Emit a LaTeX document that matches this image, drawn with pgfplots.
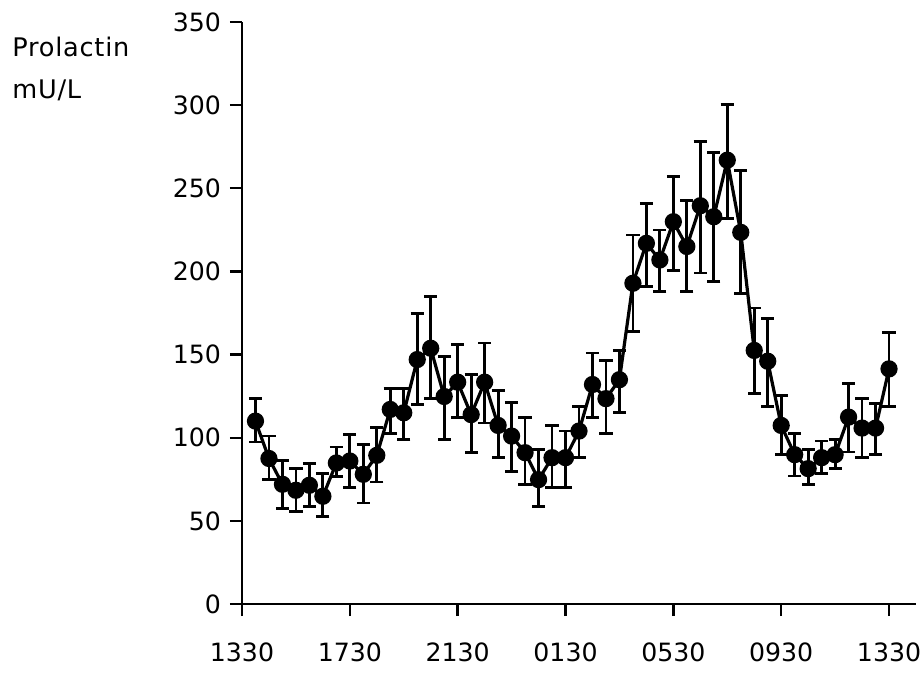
\documentclass[border=0pt]{standalone}
\usepackage{fontspec}
\setmainfont{DejaVu Sans}
\usepackage{pgfplots}
\pgfplotsset{compat=1.18}
\usepackage{pgfplotstable}

\pgfplotstableread{
x y ep em
0.5 110 13.5 12.6
1.0 87.5 13.5 12.7
1.5 72 14.4 14.6
2.0 68.4 13.1 13
2.5 71.4 13.1 13
3.0 64.8 13.7 12.4
3.5 84.8 9.6 8
4.0 86 16 16
4.5 78 18 17.2
5.0 89.4 16.6 16
5.5 117 12.8 14.5
6.0 115 14.8 16
6.5 147 27.8 27
7.0 153.8 31.1 30.3
7.5 124.8 24.2 25.8
8.0 133.4 22.5 21
8.5 113.9 24 22.9
9.0 133.4 23.6 24.6
9.5 107.4 21.1 19.4
10.0 101 20.4 21.2
10.5 91 21.4 19.2
11.0 74.8 18 16
11.5 88 19.4 18
12.0 88 16 18
12.5 104 14.8 16
13.0 132 19 19.6
13.5 123.5 23 21
14.0 134.9 17.6 19.5
14.5 192.9 29 28.9
15.0 216.9 24 25.9
15.5 206.9 18 19
16.0 229.9 27 29.4
16.5 215 27.9 27.1
17.0 239.5 38.4 40.5
17.5 232.9 38.6 38.9
18.0 266.9 33.6 35
18.5 223.5 37 37
19.0 152.5 25.5 25.7
19.5 146 25.8 27.2
20.0 107.4 18.1 17.4
20.5 89.8 12.7 12.8
21.0 81.4 11.4 9.4
21.5 88 10 9.6
22.0 89.8 9 8.3
22.5 112.4 20.4 21
23.0 105.8 17.7 17.8
23.5 105.8 14.7 15.8
24.0 141.4 22 22.6
}\prolactin

\begin{document}
\begin{tikzpicture}
\begin{axis}[
  at={(0pt,0pt)}, anchor=origin,
  scale only axis,
  width=337pt, height=291pt,
  xmin=0, xmax=25, ymin=0, ymax=350,
  axis x line*=bottom, axis y line*=left,
  axis line style={line width=1.2pt},
  tick align=outside,
  major tick length=6pt,
  tick style={line width=1.2pt, black},
  xtick={0,4,8,12,16,20,24},
  xticklabels={1330,1730,2130,0130,0530,0930,1330},
  ytick={0,50,...,350},
  /pgf/number format/assume math mode=true,
  tick label style={font=\fontsize{12.6}{14}\selectfont},
  xticklabel style={yshift=-10pt},
  yticklabel style={xshift=-1pt},
  clip=false,
]
\addplot[black, line width=1.6pt, mark=*, mark size=3.5pt,
  error bars/.cd, y dir=both, y explicit,
  error bar style={line width=1.4pt},
  error mark options={rotate=90, mark size=3.3pt, line width=1.4pt}]
  table[x=x, y=y, y error plus=ep, y error minus=em] {\prolactin};
\end{axis}
\node[anchor=base west, inner sep=0, font=\fontsize{12.8}{14}\selectfont\addfontfeatures{LetterSpace=3}] at (-115pt,273.6pt) {Prolactin};
\node[anchor=base west, inner sep=0, font=\fontsize{12.8}{14}\selectfont\addfontfeatures{LetterSpace=3}] at (-115pt,253pt) {mU/L};
\pgfresetboundingbox
\path[use as bounding box] (-121pt,-36.5pt) rectangle (340pt,302pt);
\end{tikzpicture}
\end{document}
